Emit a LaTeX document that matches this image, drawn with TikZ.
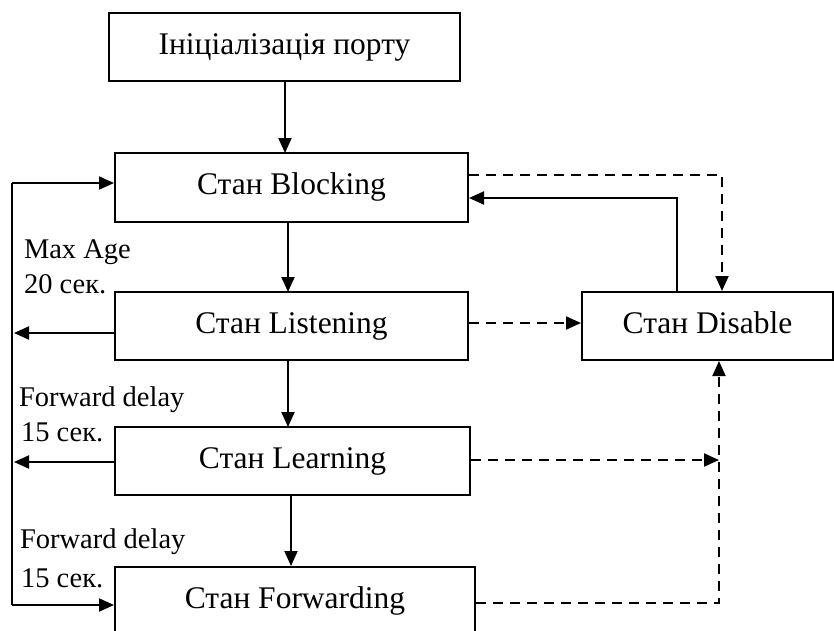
\documentclass[tikz,border=0pt]{standalone}
\usepackage{fontspec}
\setmainfont{Liberation Serif}
\usetikzlibrary{arrows.meta}
\begin{document}
\begin{tikzpicture}[x=1pt,y=-1pt,
  line width=2pt,
  statebox/.style={draw,rectangle,inner sep=0pt,text height=22pt,text depth=8pt,
    font=\fontsize{31.5}{34}\selectfont},
  tip/.style={-{Triangle[length=15pt,width=13pt]}},
  dashline/.style={dash pattern=on 10pt off 7pt},
  note/.style={anchor=base west,inner sep=0pt,font=\fontsize{28.5}{30}\selectfont}]
\useasboundingbox (0,0) rectangle (834,630);
\clip (0,0) rectangle (834,630);

% states
\node[statebox,minimum width=351pt,minimum height=68pt] (init) at (284.5,47) {Ініціалізація порту};
\node[statebox,minimum width=353pt,minimum height=69pt] (block) at (291.5,187.5) {Стан Blocking};
\node[statebox,minimum width=353pt,minimum height=68pt] (listen) at (291.5,326) {Стан Listening};
\node[statebox,minimum width=355pt,minimum height=68pt] (learn) at (292.5,461) {Стан Learning};
\node[statebox,minimum width=360pt,minimum height=69pt] (fwd) at (295,601.5) {Стан Forwarding};
\node[statebox,minimum width=251pt,minimum height=68pt] (dis) at (707.5,326) {Стан Disable};

% timer labels
\node[note] (l1a) at (23,258) {Max Age};
\node[note] (l1b) at (23,293) {20 сек.};
\node[note] (l2a) at (18,406) {Forward delay};
\node[note] (l2b) at (20,441) {15 сек.};
\node[note] (l3a) at (19,548) {Forward delay};
\node[note] (l3b) at (20,587) {15 сек.};

% main sequence
\draw[tip] (285,81) -- (285,153);
\draw[tip] (288,222) -- (288,292);
\draw[tip] (288,360) -- (288,427);
\draw[tip] (291,495) -- (291,566);

% return loop on the left
\coordinate (ltop) at (12,183);
\coordinate (lbot) at (12,605);
\draw (ltop) -- (lbot);
\draw[tip] (ltop) -- (ltop -| block.west);
\draw[tip] (lbot) -- (lbot -| fwd.west);
\coordinate (lt1) at (14,333);
\coordinate (lt2) at (14,462);
\draw[tip] (lt1 -| listen.west) -- (lt1);
\draw[tip] (lt2 -| learn.west) -- (lt2);

% links with the disabled state
\coordinate (d1) at (722,175);
\draw[tip,dashline] (d1 -| block.east) -- (d1) -- (d1 |- dis.north);
\coordinate (d2) at (677,198);
\draw[tip] (d2 |- dis.north) -- (d2) -- (d2 -| block.east);
\coordinate (d3) at (0,323);
\draw[tip,dashline] (d3 -| listen.east) -- (d3 -| dis.west);
\coordinate (d4) at (719,460);
\draw[tip,dashline] (d4 -| learn.east) -- (d4);
\coordinate (d5) at (719,603);
\draw[tip,dashline] (d5 -| fwd.east) -- (d5) -- (d5 |- dis.south);
\end{tikzpicture}
\end{document}
